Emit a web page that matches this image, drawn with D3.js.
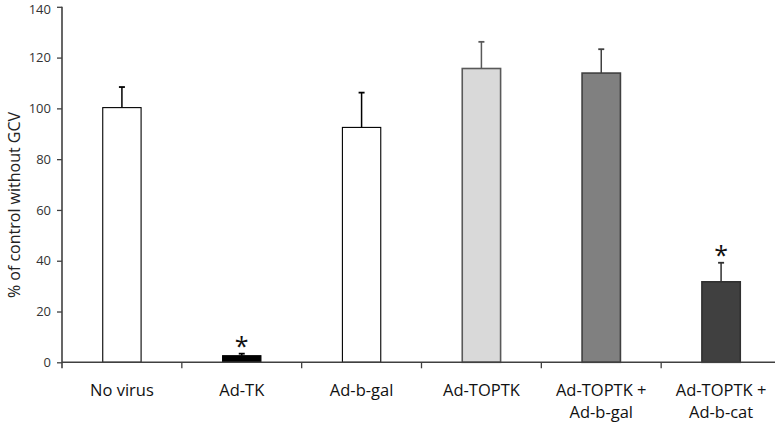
<!DOCTYPE html>
<html><head><meta charset="utf-8">
<script src="https://cdn.jsdelivr.net/npm/d3@7"></script>
<style>body{margin:0;background:#fff}svg{display:block}text{font-family:"Open Sans",sans-serif}</style>
</head><body><svg id="c" width="775" height="426"></svg>
<script>
const categories = ["No virus","Ad-TK","Ad-b-gal","Ad-TOPTK","Ad-TOPTK +\nAd-b-gal","Ad-TOPTK +\nAd-b-cat"];
const values = [100.3, 2.6, 92.5, 115.7, 113.9, 31.7];
const errors = [8.1, 0.8, 13.7, 10.5, 9.4, 7.5];
const significant = [false, true, false, false, false, true];
const fills = ["#ffffff","#000000","#ffffff","#d9d9d9","#808080","#404040"];
const strokes = ["#000000","#000000","#000000","#595959","#404040","#303030"];
const yTicks = [0,20,40,60,80,100,120,140];

const svg = d3.select("#c");
const x0 = 62, x1 = 781, yTop = 6.8, yBot = 362.3;
const x = d3.scaleBand().domain(categories).range([x0, x1]).padding(0);
const y = d3.scaleLinear().domain([0,140]).range([yBot, yTop]);
const bw = x.bandwidth()*0.32;

// y axis
const ya = svg.append("g").attr("transform",`translate(${x0},0)`)
  .call(d3.axisLeft(y).tickValues(yTicks).tickSize(5).tickPadding(6).tickSizeOuter(0));
ya.select(".domain").remove();
ya.selectAll(".tick line").attr("stroke","#404040").attr("stroke-width",1.3);
ya.selectAll(".tick text").attr("font-size",13).attr("fill","#333").style("font-family","'Open Sans',sans-serif");
ya.selectAll(".tick text").filter(d=>d===140).attr("dy","0.5em");
svg.append("line").attr("x1",x0).attr("x2",x0).attr("y1",y(140)).attr("y2",yBot+6)
  .attr("stroke","#404040").attr("stroke-width",1.6);

// bars
const g = svg.append("g");
categories.forEach((c,i)=>{
  const cx = x(c)+x.bandwidth()/2;
  g.append("rect").attr("x",cx-bw/2).attr("y",y(values[i])).attr("width",bw)
    .attr("height",y(0)-y(values[i])).attr("fill",fills[i]).attr("stroke",strokes[i])
    .attr("stroke-width", i>=3?1.6:1.1);
  const et = y(values[i]+errors[i]);
  g.append("line").attr("x1",cx).attr("x2",cx).attr("y1",y(values[i])).attr("y2",et)
    .attr("stroke",strokes[i]).attr("stroke-width",1.5);
  g.append("line").attr("x1",cx-3).attr("x2",cx+3).attr("y1",et).attr("y2",et)
    .attr("stroke",strokes[i]).attr("stroke-width",1.8);
  if(significant[i]){
    const t = g.append("text").attr("x",cx).attr("y",0).attr("text-anchor","middle")
      .attr("font-size",25).attr("fill","#111").text("*");
    const bb = t.node().getBBox();
    t.attr("y", (et-15.5) - (bb.y + bb.height*0.3));
  }
});

// x axis
svg.append("line").attr("x1",x0).attr("x2",x1).attr("y1",yBot).attr("y2",yBot)
  .attr("stroke","#404040").attr("stroke-width",1.6);
categories.forEach((c,i)=>{
  const xt = x(c);
  if(i>0) svg.append("line").attr("x1",xt).attr("x2",xt).attr("y1",yBot).attr("y2",yBot+6)
    .attr("stroke","#404040").attr("stroke-width",1.3);
  const lines = c.split("\n");
  const t = svg.append("text").attr("x",xt+x.bandwidth()/2).attr("y",395.5)
    .attr("text-anchor","middle").attr("font-size",16.5).attr("fill","#111");
  lines.forEach((l,j)=>t.append("tspan").attr("x",xt+x.bandwidth()/2).attr("dy",j?22.5:0).text(l));
});

// y label
svg.append("text").attr("transform","translate(16,205) rotate(-90)").attr("text-anchor","middle")
  .attr("dominant-baseline","middle").attr("font-size",16).attr("fill","#222").text("% of control without GCV");
</script></body></html>
